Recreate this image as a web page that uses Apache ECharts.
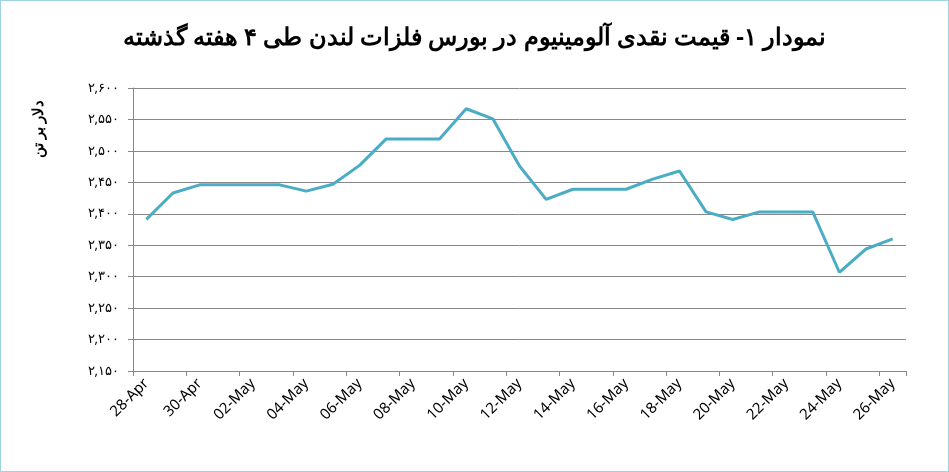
<!DOCTYPE html>
<html><head><meta charset="utf-8">
<script src="https://cdn.jsdelivr.net/npm/echarts@6/dist/echarts.min.js"></script>
<style>html,body{margin:0;padding:0;background:#fff}#c{width:947px;height:470px;border:1px solid #9fd3e0}</style>
</head><body><div id="c"></div>
<script>
const categories=['28-Apr','29-Apr','30-Apr','01-May','02-May','03-May','04-May','05-May','06-May','07-May','08-May','09-May','10-May','11-May','12-May','13-May','14-May','15-May','16-May','17-May','18-May','19-May','20-May','21-May','22-May','23-May','24-May','25-May','26-May'];
const prices=[2391,2433,2446,2446,2446,2446,2436,2447,2477,2519,2519,2519,2567,2551,2476,2423,2439,2439,2439,2455,2468,2403,2391,2403,2403,2403,2307,2344,2360];
const title='نمودار ۱- قیمت نقدی آلومینیوم در بورس فلزات لندن طی ۴ هفته گذشته';
const yName='دلار بر تن';
const fa=s=>String(s).replace(/\d/g,d=>'۰۱۲۳۴۵۶۷۸۹'[d]);
const chart=echarts.init(document.getElementById('c'));
chart.setOption({
 animation:false,
 title:{text:title,left:'center',top:20,textStyle:{fontFamily:'Noto Sans',fontWeight:'bold',fontSize:24,color:'#000'}},
 grid:{left:132,right:42,top:87,bottom:100,containLabel:false},
 graphic:[{type:'text',x:38,y:128,rotation:Math.PI/2,style:{text:yName,fontFamily:'Noto Sans',fontWeight:'bold',fontSize:15,fill:'#000',align:'center',verticalAlign:'middle'}}],
 xAxis:{type:'category',data:categories,boundaryGap:true,
  axisLine:{lineStyle:{color:'#888'}},axisTick:{show:true,interval:1,lineStyle:{color:'#888'}},
  axisLabel:{interval:1,rotate:45,fontFamily:'Noto Sans',fontSize:15,color:'#000',margin:10}},
 yAxis:{type:'value',min:2150,max:2600,interval:50,
  axisLine:{show:true,lineStyle:{color:'#888'}},axisTick:{show:true,lineStyle:{color:'#888'}},
  splitLine:{lineStyle:{color:'#888'}},
  axisLabel:{fontFamily:'Noto Sans',fontSize:13,color:'#000',margin:14,formatter:v=>fa(v.toLocaleString('en-US'))}},
 series:[{type:'line',data:prices,symbol:'none',lineStyle:{color:'#4BACC6',width:3}}]
});
</script></body></html>
